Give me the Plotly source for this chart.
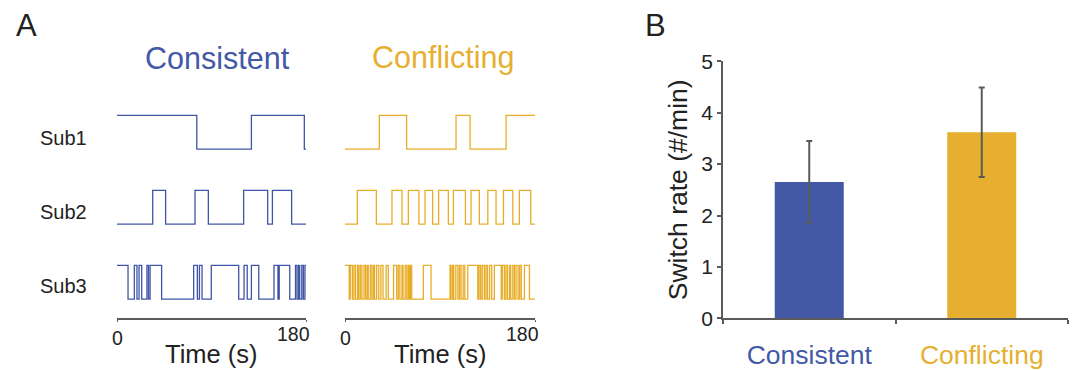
import plotly.graph_objects as go

# ---------------- data ----------------
T_MAX = 180
sub_labels = ["Sub1", "Sub2", "Sub3"]

# switch times (s); state toggles at each switch. start: 1 = high, 0 = low
cons_sub1 = [76, 128, 178.4]
cons_sub1_start = 1
cons_sub2 = [34, 46.3, 74.3, 87, 120.6, 143.5, 148, 166.3]
cons_sub2_start = 0
cons_sub3 = [10.5, 16.5, 19, 21, 23.5, 28.5, 30, 31.5, 42.5, 73, 76.5, 78.5, 81,
             89.8, 115.9, 121, 124, 128, 135, 149.5, 153.3, 154.5, 164.5, 170,
             171.5, 173, 174, 176, 177.5, 179]
cons_sub3_start = 1

conf_sub1 = [32.5, 58.4, 105.2, 118.5, 152.6]
conf_sub1_start = 0
conf_sub2 = [11.7, 29.7, 44.5, 54, 60, 70, 75.8, 83, 88.7, 97.9, 102.7, 114.1,
             119.4, 127.3, 135.3, 143.1, 150.1, 159, 165.2, 176]
conf_sub2_start = 0
conf_sub3 = [4, 5, 7, 8.5, 10, 12, 13, 14.5, 16, 18, 19.5, 21, 22, 24, 25.5, 27,
             28, 30, 32, 34, 36, 39, 41, 46, 49, 50.5, 52, 54, 55, 57, 58.5, 60,
             61, 62, 63.2, 74.2, 81.5, 99.5, 100.5, 102, 103, 105, 107, 108.5,
             110, 112, 113.5, 116.3, 125.8, 127, 128.5, 130, 132, 133.5, 135,
             137, 139, 141.5, 148, 149, 151, 152.5, 154, 156, 157, 159, 160.5,
             162, 164, 165.5, 167, 170, 174.7]
conf_sub3_start = 1

conditions = ["Consistent", "Conflicting"]
switch_rate = [2.65, 3.62]
switch_err = [0.80, 0.87]

# ---------------- style ----------------
BLUE = "#4359A5"
YELLOW = "#E6AF30"
LINE_BLUE = "#3F55A8"
LINE_YELLOW = "#E8AD28"
AXC = "#5a5a5a"
TXT = "#222222"
FONT = "Liberation Sans, Arial, sans-serif"
W, H = 1077, 370


def px(x):
    return x / W


def py(y):
    return 1 - y / H


def step(switches, start):
    xs = [0] + list(switches) + [T_MAX]
    ys = []
    s = start
    for _ in range(len(switches) + 1):
        ys.append(s)
        s = 1 - s
    ys.append(ys[-1])
    return xs, ys


AMP = 0.45
offsets = [2, 1, 0]

fig = go.Figure()

for axis, series, color in [
    ("x", [(cons_sub1, cons_sub1_start), (cons_sub2, cons_sub2_start), (cons_sub3, cons_sub3_start)], LINE_BLUE),
    ("x2", [(conf_sub1, conf_sub1_start), (conf_sub2, conf_sub2_start), (conf_sub3, conf_sub3_start)], LINE_YELLOW),
]:
    for (sw, st), off in zip(series, offsets):
        xs, ys = step(sw, st)
        fig.add_trace(go.Scatter(
            x=xs, y=[off + v * AMP for v in ys], xaxis=axis, yaxis="y",
            mode="lines", line=dict(shape="hv", color=color, width=1.3),
            showlegend=False, hoverinfo="skip"))

fig.add_trace(go.Bar(
    x=conditions, y=switch_rate, xaxis="x3", yaxis="y3", width=0.4,
    marker=dict(color=[BLUE, YELLOW], line=dict(width=0)),
    error_y=dict(type="data", array=switch_err, color=AXC, thickness=2, width=3),
    showlegend=False))

# panel A axes
y_lo = -0.253
y_hi = y_lo + (318 - 100) / 75.0
common_x = dict(range=[0, T_MAX], showline=True, linecolor=AXC, linewidth=1.5,
                showgrid=False, zeroline=False, showticklabels=False,
                ticks="outside", ticklen=2, tickcolor=AXC, tickvals=[0, T_MAX],
                fixedrange=True, automargin=False)

fig.update_layout(
    template="none",
    width=W, height=H,
    margin=dict(l=0, r=0, t=0, b=0, pad=0, autoexpand=False),
    paper_bgcolor="white", plot_bgcolor="white",
    font=dict(family=FONT, color=TXT),
    showlegend=False,
    xaxis=dict(domain=[px(117), px(306)], anchor="y", **common_x),
    xaxis2=dict(domain=[px(345), px(535)], anchor="y", **common_x),
    yaxis=dict(domain=[py(318), py(100)], range=[y_lo, y_hi], visible=False,
               anchor="x", automargin=False),
    xaxis3=dict(domain=[px(723), px(1068)], anchor="y3", range=[-0.5, 1.5],
                type="category", showline=True, linecolor=AXC, linewidth=1.5,
                ticks="outside", ticklen=4, tickcolor=AXC, tickwidth=1.5,
                tickson="boundaries", showgrid=False, automargin=False,
                tickvals=conditions,
                ticktext=[f"<span style='color:{BLUE}'>{conditions[0]}</span>",
                          f"<span style='color:{YELLOW}'>{conditions[1]}</span>"],
                tickfont=dict(size=26.5), ticklabelstandoff=12),
    yaxis3=dict(domain=[py(318.3), py(61.3)], anchor="x3", range=[0, 5], dtick=1,
                showline=True, linecolor=AXC, linewidth=1.5, ticks="outside",
                ticklen=4, tickcolor=AXC, tickwidth=1.5, showgrid=False,
                zeroline=False, tickfont=dict(size=21), automargin=False,
                title=dict(text="Switch rate (#/min)", font=dict(size=26.5),
                           standoff=6)),
)

ann = []


def label(text, x, y, size, color=TXT, xref="paper", xanchor="center", xshift=0):
    ann.append(dict(text=text, x=x, y=y, xref=xref, yref="paper",
                    xanchor=xanchor, yanchor="middle", xshift=xshift,
                    showarrow=False, font=dict(size=size, color=color)))


label("A", px(26), py(26), 31)
label("B", px(655), py(26), 31)
label("Consistent", px(217), py(58), 30.5, BLUE)
label("Conflicting", px(443), py(58), 30.5, YELLOW)
for lab, yy in zip(sub_labels, [138, 212, 286]):
    label(lab, px(89), py(yy), 20, xanchor="right")
for xa in ["x", "x2"]:
    label("0", 0, py(338), 19.5, xref=xa)
    label("180", T_MAX, py(334), 19.5, xref=xa, xanchor="right", xshift=6)
    label("Time (s)", T_MAX / 2, py(354), 25.5, xref=xa)
fig.update_layout(annotations=ann)

fig.write_html("out.html")
